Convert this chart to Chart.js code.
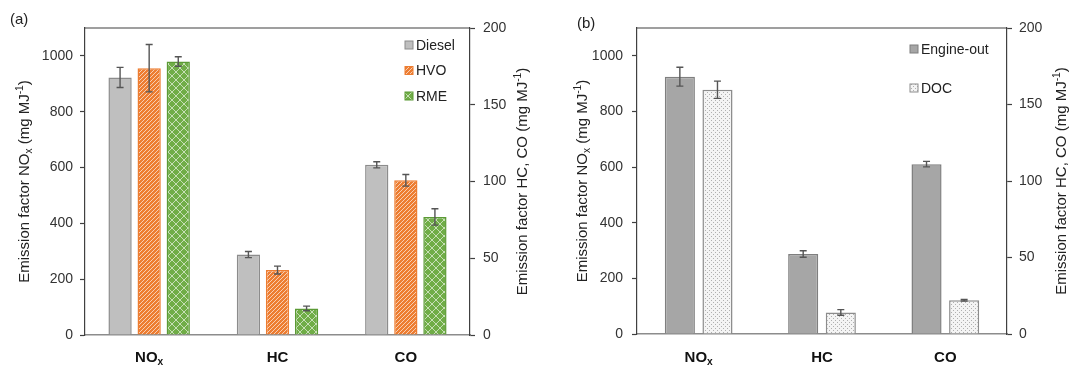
<!DOCTYPE html>
<html>
<head>
<meta charset="utf-8">
<script src="https://cdn.jsdelivr.net/npm/chart.js@4.4.0/dist/chart.umd.min.js"></script>
<style>
body { margin: 0; background: #fff; }
#wrap { position: relative; width: 1069px; height: 367px; }
.panel { position: absolute; top: 0; height: 367px; }
</style>
</head>
<body>
<div id="wrap">
  <div class="panel" style="left:0;width:535px"><canvas id="chartA"></canvas></div>
  <div class="panel" style="left:535px;width:534px"><canvas id="chartB"></canvas></div>
</div>
<script>
// Datos
var categorias = ['NOx', 'HC', 'CO'];
var ticksIzq = [0, 200, 400, 600, 800, 1000];
var ticksDer = [0, 50, 100, 150, 200];

// Panel (a): NOx en eje izquierdo, HC y CO en eje derecho
var diesel = [923, 52.4, 110.9];
var dieselErr = [36, 2.0, 2.0];
var hvo = [956, 42.3, 100.8];
var hvoErr = [85, 2.6, 3.8];
var rme = [980, 17.3, 76.9];
var rmeErr = [17, 1.5, 5.3];

// Panel (b)
var engineOut = [925, 52.3, 111.0];
var engineOutErr = [34, 2.1, 1.8];
var doc = [878, 14.1, 22.1];
var docErr = [31, 1.8, 0.5];

var fuente = "'Liberation Sans', Arial, sans-serif";

// Patrones de relleno
function patron(w, h, dibujar) {
    var c = document.createElement('canvas');
    c.width = w; c.height = h;
    var g = c.getContext('2d');
    dibujar(g);
    return g.createPattern(c, 'repeat');
}

var rellenoHVO = patron(4, 4, function (g) {
    g.fillStyle = '#ED7D31';
    g.fillRect(0, 0, 4, 4);
    g.strokeStyle = 'rgba(255,255,255,0.7)';
    g.lineWidth = 0.9;
    g.beginPath();
    g.moveTo(0, 4); g.lineTo(4, 0);
    g.moveTo(-1, 1); g.lineTo(1, -1);
    g.moveTo(3, 5); g.lineTo(5, 3);
    g.stroke();
});

var rellenoRME = patron(8, 8, function (g) {
    g.fillStyle = '#70AD47';
    g.fillRect(0, 0, 8, 8);
    g.strokeStyle = 'rgba(255,255,255,0.6)';
    g.lineWidth = 1;
    g.beginPath();
    g.moveTo(0, 0); g.lineTo(8, 8);
    g.moveTo(0, 8); g.lineTo(8, 0);
    g.stroke();
});

var rellenoDOC = patron(4, 4, function (g) {
    g.fillStyle = '#f4f4f4';
    g.fillRect(0, 0, 4, 4);
    g.fillStyle = '#b0b0b0';
    g.fillRect(0, 0, 1, 1);
    g.fillRect(2, 2, 1, 1);
});

// Texto con subindices y superindices
function anchoPartes(ctx, partes, tam, negrita) {
    var w = 0;
    partes.forEach(function (p) {
        var s = (p.sub || p.sup) ? tam * 0.68 : tam;
        ctx.font = (negrita ? 'bold ' : '') + s + 'px ' + fuente;
        w += ctx.measureText(p.t).width;
    });
    return w;
}

function textoRico(ctx, partes, x, y, tam, negrita, color) {
    var w = anchoPartes(ctx, partes, tam, negrita);
    var cx = x - w / 2;
    ctx.fillStyle = color;
    ctx.textBaseline = 'middle';
    ctx.textAlign = 'left';
    partes.forEach(function (p) {
        var s = (p.sub || p.sup) ? tam * 0.68 : tam;
        var dy = p.sub ? tam * 0.3 : (p.sup ? -tam * 0.35 : 0);
        ctx.font = (negrita ? 'bold ' : '') + s + 'px ' + fuente;
        ctx.fillText(p.t, cx, y + dy);
        cx += ctx.measureText(p.t).width;
    });
}

function partesEtiqueta(t) {
    if (t === 'NOx') return [{t: 'NO'}, {t: 'x', sub: true}];
    return [{t: t}];
}

var tituloIzq = [{t: 'Emission factor NO'}, {t: 'x', sub: true}, {t: ' (mg MJ'}, {t: '-1', sup: true}, {t: ')'}];
var tituloDer = [{t: 'Emission factor HC, CO (mg MJ'}, {t: '-1', sup: true}, {t: ')'}];

function armarDatasets(series) {
    var ds = [];
    series.forEach(function (s) {
        ds.push({
            label: s.nombre, yAxisID: 'y', err: s.err,
            data: s.valores.map(function (v, i) { return i === 0 ? v : null; }),
            backgroundColor: s.fondo, borderColor: s.borde, borderWidth: 1.5
        });
    });
    series.forEach(function (s) {
        ds.push({
            label: s.nombre, yAxisID: 'y1', err: s.err,
            data: s.valores.map(function (v, i) { return i === 0 ? null : v; }),
            backgroundColor: s.fondo, borderColor: s.borde, borderWidth: 1.5
        });
    });
    return ds;
}

// Plugin que dibuja marco, etiquetas, titulos, leyenda y barras de error
function decoracion(cfg) {
    return {
        id: 'decoracion',
        afterDatasetsDraw: function (chart) {
            var ctx = chart.ctx;
            var area = chart.chartArea;
            ctx.save();

            // barras de error
            ctx.strokeStyle = '#555';
            ctx.lineWidth = 1.4;
            chart.data.datasets.forEach(function (ds, i) {
                var meta = chart.getDatasetMeta(i);
                var escala = chart.scales[ds.yAxisID];
                meta.data.forEach(function (barra, j) {
                    var v = ds.data[j];
                    if (v === null) return;
                    var e = ds.err[j];
                    var yA = escala.getPixelForValue(v + e);
                    var yB = escala.getPixelForValue(v - e);
                    ctx.beginPath();
                    ctx.moveTo(barra.x, yA); ctx.lineTo(barra.x, yB);
                    ctx.moveTo(barra.x - 3.5, yA); ctx.lineTo(barra.x + 3.5, yA);
                    ctx.moveTo(barra.x - 3.5, yB); ctx.lineTo(barra.x + 3.5, yB);
                    ctx.stroke();
                });
            });

            // linea superior del marco
            ctx.strokeStyle = '#404040';
            ctx.lineWidth = 1.2;
            ctx.beginPath();
            ctx.moveTo(area.left, area.top);
            ctx.lineTo(area.right, area.top);
            ctx.stroke();

            // etiquetas de categorias
            var ex = chart.scales.x;
            categorias.forEach(function (c, i) {
                textoRico(ctx, partesEtiqueta(c), ex.getPixelForValue(i), 358, 15, true, '#111');
            });

            // titulos de ejes
            var cy = (area.top + area.bottom) / 2;
            ctx.save();
            ctx.translate(cfg.tituloIzqX, cy);
            ctx.rotate(-Math.PI / 2);
            textoRico(ctx, tituloIzq, 0, 0, 15, false, '#222');
            ctx.restore();
            ctx.save();
            ctx.translate(cfg.tituloDerX, cy);
            ctx.rotate(-Math.PI / 2);
            textoRico(ctx, tituloDer, 0, 0, 15, false, '#222');
            ctx.restore();

            // rotulo del panel
            ctx.font = '15px ' + fuente;
            ctx.fillStyle = '#222';
            ctx.textAlign = 'left';
            ctx.textBaseline = 'middle';
            ctx.fillText(cfg.rotulo, cfg.rotuloX, cfg.rotuloY);

            // leyenda
            var n = 0;
            chart.data.datasets.forEach(function (ds) {
                if (ds.yAxisID !== 'y') return;
                var y = cfg.leyendaY + n * cfg.leyendaPaso;
                ctx.fillStyle = ds.backgroundColor;
                ctx.fillRect(cfg.leyendaX, y - 4, 8, 8);
                ctx.strokeStyle = ds.borderColor;
                ctx.lineWidth = 1;
                ctx.strokeRect(cfg.leyendaX, y - 4, 8, 8);
                ctx.font = '14px ' + fuente;
                ctx.fillStyle = '#222';
                ctx.textBaseline = 'middle';
                ctx.fillText(ds.label, cfg.leyendaX + 11, y + 1);
                n++;
            });
            ctx.restore();
        }
    };
}

function sinComa(v) { return String(v); }

function opciones(m) {
    return {
        responsive: true,
        maintainAspectRatio: false,
        animation: false,
        layout: {padding: {top: 28, left: 0, right: 0, bottom: 0}},
        datasets: {bar: {skipNull: true, categoryPercentage: m.catPct, barPercentage: 0.8}},
        plugins: {legend: {display: false}, tooltip: {enabled: false}},
        scales: {
            x: {
                grid: {display: false},
                ticks: {display: false},
                border: {color: '#8c8c8c', width: 1.5},
                afterFit: function (s) { s.height = m.altoX; }
            },
            y: {
                position: 'left', min: 0, max: 1100,
                afterBuildTicks: function (a) { a.ticks = ticksIzq.map(function (v) { return {value: v}; }); },
                ticks: {font: {family: fuente, size: 14}, color: '#333', padding: m.padIzq, callback: sinComa},
                grid: {drawOnChartArea: false, tickLength: 5, tickColor: '#404040', tickWidth: 1.2},
                border: {color: '#404040', width: 1.2},
                afterFit: function (s) { s.width = m.anchoIzq; }
            },
            y1: {
                position: 'right', min: 0, max: 200,
                afterBuildTicks: function (a) { a.ticks = ticksDer.map(function (v) { return {value: v}; }); },
                ticks: {font: {family: fuente, size: 14}, color: '#333', padding: m.padDer, callback: sinComa},
                grid: {drawOnChartArea: false, tickLength: 5, tickColor: '#404040', tickWidth: 1.2},
                border: {color: '#404040', width: 1.2},
                afterFit: function (s) { s.width = m.anchoDer; }
            }
        }
    };
}

new Chart(document.getElementById('chartA').getContext('2d'), {
    type: 'bar',
    data: {
        labels: categorias,
        datasets: armarDatasets([
            {nombre: 'Diesel', valores: diesel, err: dieselErr, fondo: '#bfbfbf', borde: '#8c8c8c'},
            {nombre: 'HVO', valores: hvo, err: hvoErr, fondo: rellenoHVO, borde: '#ED7D31'},
            {nombre: 'RME', valores: rme, err: rmeErr, fondo: rellenoRME, borde: '#5b9a35'}
        ])
    },
    options: opciones({catPct: 0.68, altoX: 32, anchoIzq: 85, anchoDer: 65, padIzq: 7, padDer: 8}),
    plugins: [decoracion({
        tituloIzqX: 25, tituloDerX: 523, rotulo: '(a)', rotuloX: 10, rotuloY: 20,
        leyendaX: 405, leyendaY: 45, leyendaPaso: 25.5
    })]
});

new Chart(document.getElementById('chartB').getContext('2d'), {
    type: 'bar',
    data: {
        labels: categorias,
        datasets: armarDatasets([
            {nombre: 'Engine-out', valores: engineOut, err: engineOutErr, fondo: '#a6a6a6', borde: '#7f7f7f'},
            {nombre: 'DOC', valores: doc, err: docErr, fondo: rellenoDOC, borde: '#8c8c8c'}
        ])
    },
    options: opciones({catPct: 0.61, altoX: 33, anchoIzq: 102, anchoDer: 62, padIzq: 9, padDer: 7}),
    plugins: [decoracion({
        tituloIzqX: 48, tituloDerX: 527, rotulo: '(b)', rotuloX: 42, rotuloY: 24,
        leyendaX: 375, leyendaY: 49, leyendaPaso: 39
    })]
});
</script>
</body>
</html>
